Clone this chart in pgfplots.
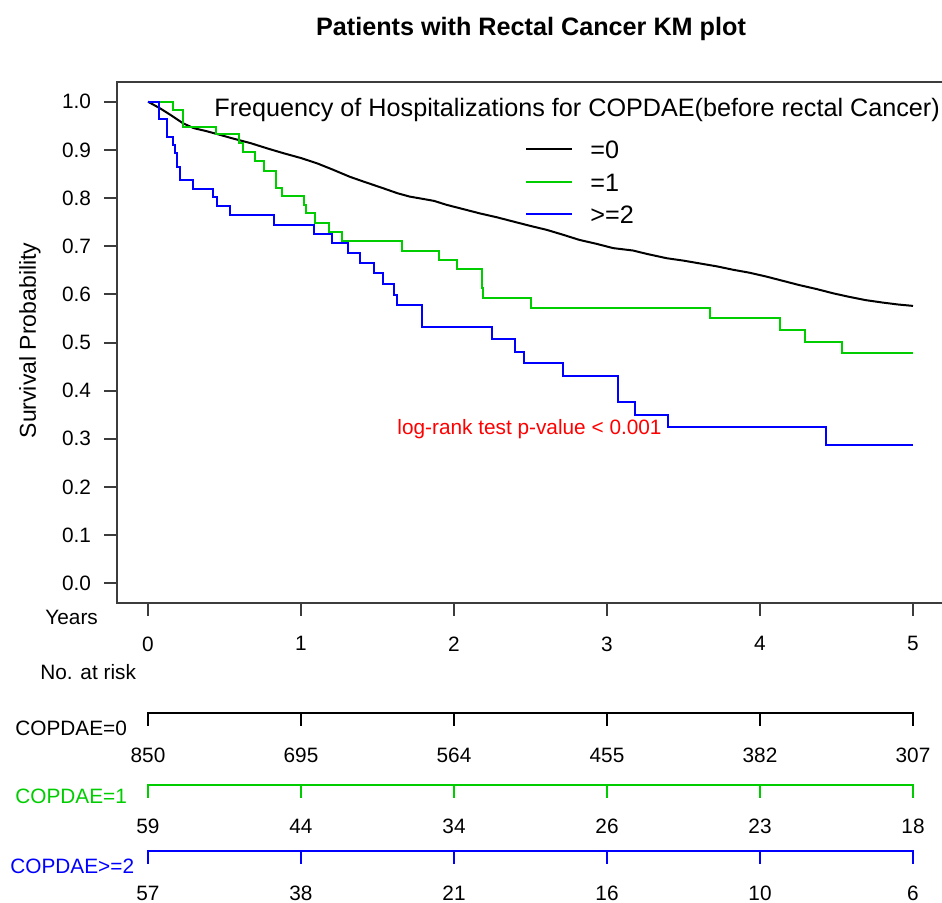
\documentclass[border=0pt]{standalone}
\usepackage{fontspec}
\setmainfont{Liberation Sans}
\usepackage{pgfplots}
\pgfplotsset{compat=1.18}
\definecolor{kmgreen}{RGB}{0,205,0}
\definecolor{kmblue}{RGB}{0,0,255}
\definecolor{framegray}{RGB}{60,60,60}
\newcommand{\basefont}{\fontsize{10.4}{12.5}\selectfont}
\newcommand{\bigfont}{\fontsize{12.6}{15}\selectfont}

\begin{document}
\begin{tikzpicture}
\begin{axis}[
  at={(0,0)}, anchor=origin,
  x=76.5pt, y=240.8pt,
  xmin=-0.2026, xmax=5.2, ymin=-0.04, ymax=1.04,
  clip=false,
  axis line style={line width=1pt, framegray},
  xtick={0,1,2,3,4,5},
  ytick={0,0.1,0.2,0.3,0.4,0.5,0.6,0.7,0.8,0.9,1.0},
  tick align=outside, tick pos=left,
  major tick length=6.5pt,
  tick style={line width=1pt, framegray},
  tick label style={font=\basefont},
  /pgf/number format/assume math mode=true,
  yticklabel style={/pgf/number format/fixed, /pgf/number format/fixed zerofill,
    /pgf/number format/precision=1, xshift=-3pt},
  xticklabel style={yshift=-7pt},
]
% COPDAE = 0
\addplot[black, line width=1pt] coordinates {
  (0,1.0) (0.08,0.986) (0.15,0.972) (0.23,0.955) (0.30,0.945) (0.38,0.939)
  (0.45,0.933) (0.55,0.924) (0.67,0.914) (0.78,0.903) (0.886,0.893) (1.0,0.883)
  (1.105,0.872) (1.2,0.860) (1.32,0.844) (1.41,0.834) (1.54,0.820) (1.63,0.810)
  (1.71,0.803) (1.80,0.798) (1.87,0.794) (1.95,0.786) (2.06,0.777) (2.17,0.768)
  (2.28,0.760) (2.39,0.751) (2.50,0.742) (2.605,0.734) (2.71,0.724) (2.82,0.713)
  (2.93,0.705) (3.04,0.696) (3.17,0.691) (3.26,0.684) (3.39,0.675) (3.50,0.670)
  (3.61,0.664) (3.72,0.658) (3.825,0.651) (3.93,0.645) (4.04,0.637) (4.15,0.628)
  (4.26,0.619) (4.37,0.611) (4.48,0.602) (4.58,0.595) (4.69,0.588) (4.80,0.583)
  (4.90,0.579) (5.0,0.576)
};
% COPDAE = 1
\addplot[const plot, kmgreen, line width=1pt] coordinates {
  (0,1.0) (0.165,0.983) (0.231,0.948) (0.447,0.932) (0.597,0.914) (0.623,0.895)
  (0.70,0.877) (0.758,0.856) (0.837,0.821) (0.874,0.804) (1.02,0.786) (1.035,0.768)
  (1.09,0.748) (1.185,0.729) (1.265,0.711) (1.66,0.691) (1.90,0.671) (2.017,0.652)
  (2.18,0.613) (2.19,0.592) (2.50,0.572) (3.673,0.551) (4.13,0.527) (4.294,0.502)
  (4.534,0.479) (5.0,0.479)
};
% COPDAE >= 2
\addplot[const plot, kmblue, line width=1pt] coordinates {
  (0,1.0) (0.072,0.964) (0.126,0.927) (0.165,0.910) (0.176,0.893) (0.19,0.865)
  (0.209,0.837) (0.296,0.819) (0.427,0.803) (0.453,0.783) (0.536,0.765) (0.824,0.745)
  (1.085,0.725) (1.20,0.706) (1.31,0.686) (1.386,0.666) (1.48,0.644) (1.534,0.621)
  (1.61,0.599) (1.629,0.578) (1.788,0.533) (2.25,0.507) (2.40,0.481) (2.46,0.457)
  (2.71,0.431) (3.073,0.377) (3.18,0.350) (3.40,0.324) (4.43,0.287) (5.0,0.287)
};
% risk table brackets
\addplot[black, line width=1pt] coordinates {
  (0,-0.296) (0,-0.269) (1,-0.269) (1,-0.296) (1,-0.269) (2,-0.269) (2,-0.296)
  (2,-0.269) (3,-0.269) (3,-0.296) (3,-0.269) (4,-0.269) (4,-0.296) (4,-0.269)
  (5,-0.269) (5,-0.296)
};
\addplot[kmgreen, line width=1pt] coordinates {
  (0,-0.4454) (0,-0.4184) (1,-0.4184) (1,-0.4454) (1,-0.4184) (2,-0.4184) (2,-0.4454)
  (2,-0.4184) (3,-0.4184) (3,-0.4454) (3,-0.4184) (4,-0.4184) (4,-0.4454) (4,-0.4184)
  (5,-0.4184) (5,-0.4454)
};
\addplot[kmblue, line width=1pt] coordinates {
  (0,-0.5825) (0,-0.5555) (1,-0.5555) (1,-0.5825) (1,-0.5555) (2,-0.5555) (2,-0.5825)
  (2,-0.5555) (3,-0.5555) (3,-0.5825) (3,-0.5555) (4,-0.5555) (4,-0.5825) (4,-0.5555)
  (5,-0.5555) (5,-0.5825)
};
% numbers at risk
\addplot[draw=none, nodes near coords, point meta=explicit symbolic,
  every node near coord/.append style={anchor=base, inner sep=0pt, font=\basefont, text=black}]
  coordinates {
  (0,-0.3731)[850] (1,-0.3731)[695] (2,-0.3731)[564] (3,-0.3731)[455] (4,-0.3731)[382] (5,-0.3731)[307]
  (0,-0.5204)[59] (1,-0.5204)[44] (2,-0.5204)[34] (3,-0.5204)[26] (4,-0.5204)[23] (5,-0.5204)[18]
  (0,-0.6587)[57] (1,-0.6587)[38] (2,-0.6587)[21] (3,-0.6587)[16] (4,-0.6587)[10] (5,-0.6587)[6]
};
\end{axis}

\begin{scope}[shift={(-74pt,291.65pt)}, x=0.5pt, y=-0.5pt]
  \node[anchor=base, inner sep=0pt, font=\bigfont\bfseries] at (531,35) {Patients with Rectal Cancer KM plot};
  \node[anchor=base, inner sep=0pt, font=\fontsize{11.5}{13}\selectfont, rotate=90] at (36,340.5) {Survival Probability};
  \node[anchor=base west, inner sep=0pt, font=\bigfont] at (214,116) {Frequency of Hospitalizations for COPDAE(before rectal Cancer)};
  \draw[black, line width=1pt] (526,149) -- (572,149);
  \draw[kmgreen, line width=1pt] (526,181.5) -- (572,181.5);
  \draw[kmblue, line width=1pt] (526,214) -- (572,214);
  \node[anchor=base west, inner sep=0pt, font=\bigfont] at (590,158.5) {=0};
  \node[anchor=base west, inner sep=0pt, font=\bigfont] at (590,191) {=1};
  \node[anchor=base west, inner sep=0pt, font=\bigfont] at (590,223.5) {>=2};
  \node[anchor=base west, inner sep=0pt, font=\basefont, text=red] at (397,434) {log-rank test p-value < 0.001};
  \node[anchor=base west, inner sep=0pt, font=\basefont] at (45,624) {Years};
  \node[anchor=base west, inner sep=0pt, font=\basefont] at (40,679) {No. at risk};
  \node[anchor=base west, inner sep=0pt, font=\basefont] at (15,735) {COPDAE=0};
  \node[anchor=base west, inner sep=0pt, font=\basefont, text=kmgreen] at (15,803) {COPDAE=1};
  \node[anchor=base west, inner sep=0pt, font=\basefont, text=kmblue] at (10,873) {COPDAE>=2};
\end{scope}

\pgfresetboundingbox
\path[use as bounding box] (-74pt,-159.35pt) rectangle (397pt,291.65pt);
\end{tikzpicture}
\end{document}
